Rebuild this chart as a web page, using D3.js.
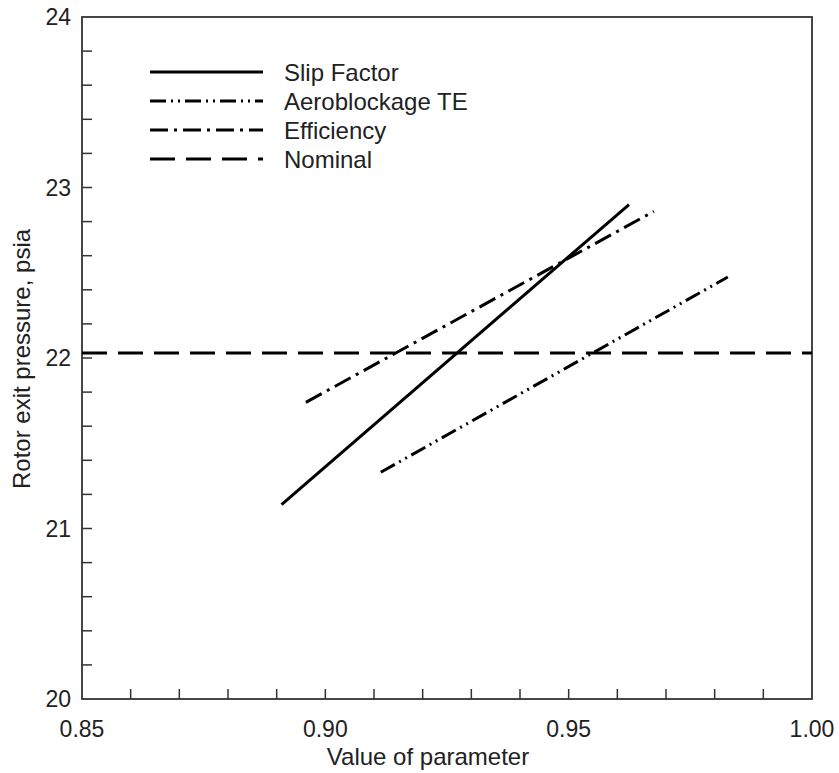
<!DOCTYPE html>
<html><head><meta charset="utf-8">
<script src="https://cdn.jsdelivr.net/npm/d3@7"></script>
<style>body{margin:0;background:#fff}svg{display:block}text{font-family:"Liberation Sans",Arial,sans-serif;fill:#222}</style>
</head><body>
<svg id="c" width="839" height="773"></svg>
<script>
// Data
const seriesNames = ["Slip Factor", "Aeroblockage TE", "Efficiency", "Nominal"];
const slipFactor = [[0.891, 21.14], [0.9624, 22.90]];
const aeroblockageTE = [[0.9114, 21.33], [0.9827, 22.475]];
const efficiency = [[0.896, 21.74], [0.9675, 22.86]];
const nominal = [[0.85, 22.03], [1.00, 22.03]];
const xTickLabels = [0.85, 0.90, 0.95, 1.00];
const yTickLabels = [20, 21, 22, 23, 24];
const xMinorTicks = d3.range(0, 16).map(i => 0.85 + i * 0.01);
const yMinorTicks = d3.range(0, 21).map(i => 20 + i * 0.2);

const dashes = ["none", "16,5,2,5,2,5", "18,6,3,6", "25,11"];
const seriesData = [slipFactor, aeroblockageTE, efficiency, nominal];

const svg = d3.select("#c");
const L = 82, R = 812, T = 17, B = 699;
const x = d3.scaleLinear().domain([0.85, 1.00]).range([L, R]);
const y = d3.scaleLinear().domain([20, 24]).range([B, T]);

// ticks (inside)
const tg = svg.append("g").attr("stroke", "#333").attr("stroke-width", 1.5);
tg.selectAll(".xt").data(xMinorTicks.slice(1, -1)).join("line")
  .attr("x1", d => x(d)).attr("x2", d => x(d)).attr("y1", B).attr("y2", B - 10);
tg.selectAll(".yt").data(yMinorTicks.slice(1, -1)).join("line")
  .attr("y1", d => y(d)).attr("y2", d => y(d)).attr("x1", L).attr("x2", L + 10);

// frame
svg.append("rect").attr("x", L).attr("y", T).attr("width", R - L).attr("height", B - T)
  .attr("fill", "none").attr("stroke", "#333").attr("stroke-width", 1.8);

// tick labels
svg.selectAll(".xl").data(xTickLabels).join("text")
  .attr("x", d => x(d)).attr("y", 737).attr("text-anchor", "middle")
  .attr("font-size", 23).text(d => d3.format(".2f")(d));
svg.selectAll(".yl").data(yTickLabels).join("text")
  .attr("x", 71).attr("y", d => y(d)).attr("dy", "0.36em").attr("text-anchor", "end")
  .attr("font-size", 23).text(d => d);

// axis titles
svg.append("text").attr("x", 428).attr("y", 765).attr("text-anchor", "middle")
  .attr("font-size", 24).text("Value of parameter");
svg.append("text").attr("transform", "translate(30,359) rotate(-90)").attr("text-anchor", "middle")
  .attr("font-size", 24).text("Rotor exit pressure, psia");

// lines
const line = d3.line().x(d => x(d[0])).y(d => y(d[1]));
svg.selectAll(".s").data(seriesData).join("path")
  .attr("d", d => line(d)).attr("fill", "none").attr("stroke", "#000")
  .attr("stroke-width", 3).attr("stroke-dasharray", (d, i) => dashes[i]);

// legend
const ly = [72, 101, 130, 159];
const lg = svg.append("g");
seriesNames.forEach((n, i) => {
  lg.append("line").attr("x1", 150).attr("x2", 263).attr("y1", ly[i]).attr("y2", ly[i])
    .attr("stroke", "#000").attr("stroke-width", 3).attr("stroke-dasharray", dashes[i]);
  lg.append("text").attr("x", 284).attr("y", ly[i]).attr("dy", "0.36em")
    .attr("font-size", 24).text(n);
});
</script>
</body></html>
